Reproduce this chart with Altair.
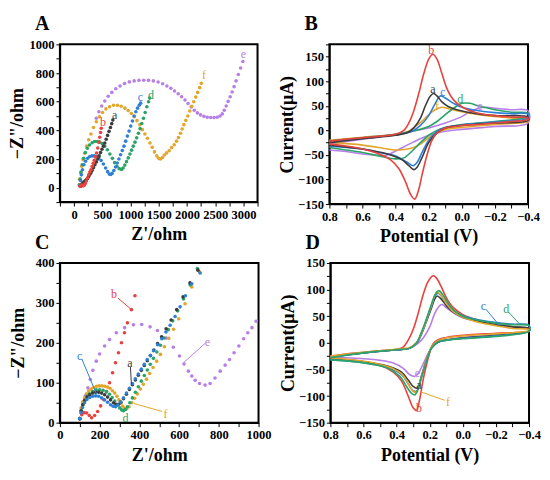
import altair as alt
import pandas as pd

FONT = "Liberation Serif"
COL = {"a": "#3c3c3c", "b": "#e8423f", "c": "#2f7fd6", "d": "#2aa468",
       "e": "#b77fe6", "f": "#e3a52a"}

# ---------------- Panel A (Nyquist, wide range) ----------------
A_a_x = [120, 140, 160, 180, 200, 220, 240, 260, 280, 300, 320, 345, 370, 395, 420, 445, 470, 495, 520, 545, 570, 595, 620, 645, 668, 688]
A_a_y = [10, 25, 35, 42, 48, 55, 65, 78, 92, 105, 120, 140, 160, 180, 200, 222, 245, 268, 290, 312, 338, 365, 393, 420, 447, 472]
A_b_x = [105, 120, 135, 150, 165, 180, 200, 220, 240, 260, 280, 300, 320, 340, 360, 380, 400, 420, 440, 455, 470, 482]
A_b_y = [10, 15, 18, 15, 14, 18, 30, 48, 68, 90, 110, 125, 148, 170, 192, 215, 242, 277, 318, 352, 385, 415]
A_c_x = [105, 115, 130, 150, 175, 205, 240, 280, 320, 360, 400, 440, 480, 520, 560, 595, 625, 650, 675, 705, 735, 765, 795, 825, 855, 885, 915, 945, 975, 1005, 1035, 1065, 1095, 1125, 1155, 1180]
A_c_y = [15, 50, 90, 125, 160, 185, 205, 218, 222, 222, 218, 208, 190, 165, 138, 112, 95, 92, 100, 120, 145, 172, 200, 230, 260, 290, 325, 360, 395, 430, 465, 500, 530, 555, 575, 590]
A_d_x = [100, 110, 125, 145, 170, 200, 235, 275, 320, 365, 410, 455, 500, 545, 590, 635, 680, 720, 760, 800, 840, 870, 900, 930, 960, 990, 1020, 1050, 1080, 1110, 1140, 1170, 1200, 1230, 1260, 1290, 1320, 1340]
A_d_y = [20, 60, 110, 160, 205, 245, 275, 298, 314, 322, 322, 318, 308, 290, 265, 235, 205, 175, 150, 133, 128, 138, 158, 182, 208, 235, 262, 290, 318, 348, 380, 412, 448, 485, 525, 565, 600, 625]
A_e_x = [395, 440, 490, 545, 605, 670, 740, 815, 895, 980, 1065, 1150, 1235, 1320, 1405, 1490, 1570, 1645, 1715, 1780, 1845, 1905, 1965, 2020, 2075, 2130, 2185, 2240, 2300, 2360, 2420, 2480, 2535, 2585, 2625, 2660, 2695, 2730, 2765, 2800, 2835, 2870, 2910, 2950, 2990]
A_e_y = [485, 530, 570, 605, 638, 665, 690, 710, 727, 738, 745, 749, 750, 749, 745, 737, 725, 710, 693, 675, 655, 635, 612, 588, 563, 540, 522, 508, 498, 492, 490, 489, 492, 500, 515, 540, 570, 602, 635, 668, 705, 745, 790, 835, 880]
A_f_x = [90, 100, 115, 135, 160, 190, 225, 260, 300, 345, 395, 450, 505, 565, 630, 700, 770, 835, 900, 960, 1015, 1065, 1115, 1165, 1210, 1255, 1300, 1345, 1385, 1425, 1465, 1500, 1530, 1565, 1600, 1640, 1685, 1730, 1775, 1815, 1850, 1885, 1915, 1945, 1980, 2015, 2050, 2085, 2120, 2155, 2190, 2225, 2255]
A_f_y = [20, 60, 105, 150, 195, 240, 290, 335, 375, 420, 460, 495, 525, 550, 565, 575, 575, 568, 555, 538, 518, 495, 468, 440, 405, 375, 345, 312, 282, 250, 222, 205, 200, 210, 228, 243, 258, 280, 300, 325, 350, 380, 410, 440, 470, 500, 535, 568, 600, 632, 665, 698, 728]
A_lab_t = ["a", "b", "c", "d", "e", "f"]
A_lab_x = [720, 515, 1175, 1365, 3000, 2300]
A_lab_y = [505, 460, 630, 650, 935, 785]

# ---------------- Panel C (Nyquist, zoomed) ----------------
C_a_x = [100, 107, 115, 125, 137, 150, 165, 180, 195, 210, 225, 240, 255, 270, 283, 295, 307, 320, 335, 350, 365, 380, 395, 410, 425, 440, 456, 473, 492, 512, 535, 560, 588, 620, 655, 695]
C_a_y = [10, 30, 45, 56, 64, 70, 74, 76, 76, 74, 70, 64, 57, 50, 46, 46, 51, 60, 71, 83, 95, 107, 119, 131, 143, 155, 168, 182, 198, 215, 235, 257, 283, 315, 350, 382]
C_b_x = [100, 110, 122, 135, 148, 160, 175, 190, 205, 220, 235, 250, 265, 280, 295, 310, 325, 340, 360, 378]
C_b_y = [10, 20, 25, 24, 18, 12, 18, 28, 42, 58, 78, 100, 125, 150, 175, 200, 225, 250, 283, 318]
C_c_x = [100, 106, 114, 124, 136, 150, 165, 180, 195, 210, 225, 240, 255, 268, 280, 292, 305, 320, 335, 350, 365, 380, 395, 410, 425, 440, 455, 471, 492, 513, 534, 555, 580, 605, 632, 664, 706]
C_c_y = [10, 25, 38, 50, 58, 63, 66, 67, 66, 62, 57, 51, 45, 41, 40, 44, 52, 62, 74, 86, 98, 110, 122, 134, 146, 158, 168, 180, 195, 210, 227, 244, 266, 290, 318, 348, 375]
C_d_x = [100, 108, 116, 125, 137, 150, 165, 183, 200, 217, 234, 250, 263, 276, 289, 301, 311, 320, 330, 340, 352, 365, 380, 395, 410, 425, 440, 455, 471, 488, 506, 525, 546, 568, 593, 622, 656, 692]
C_d_y = [10, 30, 45, 55, 66, 72, 78, 82, 82, 81, 77, 71, 63, 54, 45, 37, 32, 30, 33, 40, 50, 62, 76, 90, 104, 118, 132, 146, 161, 177, 194, 212, 233, 255, 280, 310, 345, 386]
C_e_x = [100, 107, 116, 128, 141, 153, 166, 183, 200, 225, 250, 284, 326, 370, 412, 454, 491, 535, 571, 602, 625, 647, 664, 681, 703, 731, 756, 781, 807, 832, 854, 877, 901, 925, 946, 967, 988]
C_e_y = [10, 29, 46, 67, 87, 108, 131, 154, 172, 192, 208, 225, 238, 245, 246, 240, 231, 212, 189, 167, 147, 129, 117, 106, 98, 94, 98, 112, 129, 144, 158, 175, 192, 210, 225, 238, 254]
C_f_x = [100, 107, 115, 124, 134, 145, 157, 170, 184, 198, 212, 226, 240, 252, 264, 276, 287, 297, 306, 316, 326, 336, 348, 362, 376, 390, 405, 420, 436, 452, 469, 487, 506, 526, 548, 572, 598, 630, 664, 703]
C_f_y = [10, 37, 52, 62, 72, 79, 84, 88, 91, 92, 92, 91, 89, 86, 80, 74, 66, 57, 48, 41, 36, 35, 40, 50, 61, 72, 84, 96, 109, 123, 138, 154, 171, 190, 211, 234, 260, 298, 340, 378]
C_lab_t = ["a", "b", "c", "d", "e", "f"]
C_lab_x = [352, 272, 100, 330, 742, 532]
C_lab_y = [150, 322, 168, 12, 203, 22]
C_arr_s = ["a", "b", "c", "e", "f"]
C_arr_x = [355, 292, 110, 730, 515]
C_arr_y = [140, 312, 160, 198, 28]
C_arr_x2 = [360, 356, 185, 622, 372]
C_arr_y2 = [96, 285, 71, 150, 48]

# ---------------- Panel B (CV) ----------------
B_a_Eu = [0.8, 0.6, 0.4, 0.33, 0.29, 0.25, 0.22, 0.19, 0.17, 0.15, 0.12, 0.08, 0.03, -0.05, -0.2, -0.4]
B_a_Iu = [-25, -17, -10, -5, 5, 25, 50, 70, 75, 70, 58, 48, 42, 36, 30, 27]
B_a_Ed = [-0.4, -0.2, 0.0, 0.1, 0.15, 0.2, 0.24, 0.27, 0.29, 0.32, 0.36, 0.45, 0.6, 0.8]
B_a_Id = [20, 15, 10, 5, -5, -25, -55, -75, -80, -72, -60, -48, -38, -30]
B_b_Eu = [0.8, 0.7, 0.6, 0.5, 0.4, 0.35, 0.32, 0.29, 0.26, 0.23, 0.2, 0.175, 0.15, 0.12, 0.09, 0.05, 0.0, -0.05, -0.1, -0.2, -0.3, -0.4]
B_b_Iu = [-22, -18, -15, -12, -8, 0, 15, 40, 75, 115, 145, 155, 145, 115, 85, 62, 48, 40, 35, 30, 27, 25]
B_b_Ed = [-0.4, -0.3, -0.2, -0.1, 0.0, 0.05, 0.1, 0.15, 0.18, 0.21, 0.24, 0.26, 0.285, 0.31, 0.34, 0.38, 0.43, 0.5, 0.6, 0.7, 0.8]
B_b_Id = [22, 18, 15, 12, 10, 8, 5, -5, -20, -50, -90, -120, -140, -130, -105, -78, -60, -48, -38, -32, -28]
B_c_Eu = [0.8, 0.6, 0.4, 0.3, 0.25, 0.2, 0.16, 0.13, 0.1, 0.05, 0.0, -0.1, -0.2, -0.3, -0.4]
B_c_Iu = [-24, -16, -9, -2, 10, 30, 55, 70, 66, 55, 47, 40, 36, 34, 33]
B_c_Ed = [-0.4, -0.2, 0.0, 0.1, 0.15, 0.2, 0.24, 0.27, 0.295, 0.33, 0.4, 0.5, 0.6, 0.8]
B_c_Id = [25, 17, 11, 6, -2, -20, -45, -65, -72, -65, -52, -45, -38, -32]
B_d_Eu = [0.8, 0.6, 0.4, 0.3, 0.2, 0.15, 0.1, 0.05, 0.0, -0.05, -0.1, -0.2, -0.3, -0.4]
B_d_Iu = [-22, -15, -8, -2, 8, 18, 32, 45, 55, 55, 50, 42, 37, 35]
B_d_Ed = [-0.4, -0.2, 0.0, 0.1, 0.15, 0.2, 0.25, 0.3, 0.35, 0.4, 0.5, 0.6, 0.7, 0.8]
B_d_Id = [28, 18, 12, 6, 0, -10, -25, -42, -56, -58, -52, -45, -40, -35]
B_e_Eu = [0.8, 0.6, 0.4, 0.3, 0.2, 0.1, 0.0, -0.05, -0.1, -0.15, -0.2, -0.3, -0.4]
B_e_Iu = [-28, -18, -8, -2, 5, 15, 28, 38, 45, 47, 45, 42, 40]
B_e_Ed = [-0.4, -0.2, 0.0, 0.1, 0.2, 0.3, 0.4, 0.45, 0.5, 0.6, 0.7, 0.8]
B_e_Id = [15, 8, 2, -2, -10, -25, -42, -50, -51, -48, -43, -40]
B_f_Eu = [0.8, 0.6, 0.4, 0.33, 0.28, 0.23, 0.19, 0.15, 0.12, 0.08, 0.03, -0.05, -0.15, -0.3, -0.4]
B_f_Iu = [-20, -14, -8, -3, 8, 22, 35, 44, 47, 44, 40, 35, 30, 25, 22]
B_f_Ed = [-0.4, -0.2, 0.0, 0.1, 0.15, 0.2, 0.25, 0.3, 0.35, 0.4, 0.45, 0.5, 0.6, 0.8]
B_f_Id = [18, 12, 6, 2, -5, -15, -28, -36, -39, -40, -38, -35, -30, -24]
B_lab_t = ["a", "b", "c", "d", "e", "f"]
B_lab_x = [0.175, 0.185, 0.115, 0.01, -0.11, 0.15]
B_lab_y = [84, 164, 78, 64, 50, 50]

# ---------------- Panel D (CV) ----------------
D_a_Eu = [0.8, 0.6, 0.4, 0.32, 0.28, 0.25, 0.22, 0.19, 0.17, 0.155, 0.13, 0.1, 0.06, 0.0, -0.1, -0.2, -0.3, -0.4]
D_a_Iu = [-26, -19, -13, -10, -1, 16, 40, 65, 82, 88, 82, 70, 58, 48, 40, 34, 30, 27]
D_a_Ed = [-0.4, -0.2, 0.0, 0.1, 0.15, 0.19, 0.22, 0.25, 0.275, 0.3, 0.33, 0.37, 0.45, 0.55, 0.7, 0.8]
D_a_Id = [22, 14, 9, 5, 1, -10, -33, -62, -85, -82, -70, -55, -44, -38, -33, -31]
D_b_Eu = [0.8, 0.7, 0.6, 0.5, 0.4, 0.36, 0.33, 0.3, 0.27, 0.24, 0.21, 0.18, 0.16, 0.13, 0.1, 0.06, 0.0, -0.1, -0.2, -0.3, -0.4]
D_b_Iu = [-25, -21, -18, -15, -12, -8, 5, 25, 55, 90, 115, 126, 122, 105, 85, 67, 53, 42, 35, 30, 25]
D_b_Ed = [-0.4, -0.2, 0.0, 0.1, 0.15, 0.18, 0.21, 0.24, 0.26, 0.28, 0.3, 0.33, 0.37, 0.42, 0.5, 0.6, 0.7, 0.8]
D_b_Id = [22, 18, 14, 10, 6, -2, -30, -70, -105, -127, -122, -100, -72, -55, -42, -35, -32, -30]
D_c_Eu = [0.8, 0.6, 0.4, 0.32, 0.28, 0.25, 0.22, 0.19, 0.17, 0.15, 0.13, 0.1, 0.06, 0.0, -0.1, -0.2, -0.3, -0.4]
D_c_Iu = [-27, -19, -13, -10, -1, 17, 42, 68, 87, 93, 88, 75, 61, 51, 43, 38, 35, 33]
D_c_Ed = [-0.4, -0.2, 0.0, 0.1, 0.15, 0.19, 0.22, 0.25, 0.28, 0.3, 0.33, 0.37, 0.45, 0.55, 0.7, 0.8]
D_c_Id = [22, 13, 8, 5, 1, -10, -35, -65, -91, -90, -77, -60, -47, -40, -34, -32]
D_d_Eu = [0.8, 0.6, 0.4, 0.32, 0.28, 0.25, 0.22, 0.19, 0.165, 0.145, 0.12, 0.09, 0.05, 0.0, -0.1, -0.2, -0.3, -0.4]
D_d_Iu = [-28, -19, -13, -10, 0, 20, 45, 72, 92, 98, 90, 75, 60, 50, 42, 37, 34, 32]
D_d_Ed = [-0.4, -0.2, 0.0, 0.1, 0.15, 0.19, 0.22, 0.25, 0.27, 0.29, 0.31, 0.34, 0.38, 0.45, 0.55, 0.7, 0.8]
D_d_Id = [22, 12, 8, 5, 2, -10, -35, -65, -87, -98, -95, -82, -63, -48, -40, -34, -32]
D_e_Eu = [0.8, 0.6, 0.4, 0.33, 0.3, 0.25, 0.2, 0.17, 0.14, 0.125, 0.1, 0.05, 0.0, -0.1, -0.2, -0.3, -0.4]
D_e_Iu = [-26, -19, -13, -11, -7, 5, 30, 55, 70, 72, 66, 55, 47, 40, 35, 30, 27]
D_e_Ed = [-0.4, -0.2, 0.0, 0.1, 0.15, 0.2, 0.24, 0.27, 0.29, 0.32, 0.36, 0.42, 0.5, 0.65, 0.8]
D_e_Id = [22, 15, 10, 6, 2, -15, -40, -58, -63, -60, -48, -38, -33, -29, -27]
D_f_Eu = [0.8, 0.6, 0.4, 0.32, 0.28, 0.25, 0.22, 0.19, 0.17, 0.155, 0.13, 0.1, 0.06, 0.0, -0.1, -0.2, -0.3, -0.4]
D_f_Iu = [-25, -18, -12, -9, 0, 18, 43, 70, 89, 95, 89, 74, 59, 48, 38, 32, 27, 25]
D_f_Ed = [-0.4, -0.2, 0.0, 0.1, 0.15, 0.19, 0.22, 0.25, 0.28, 0.3, 0.33, 0.37, 0.45, 0.55, 0.7, 0.8]
D_f_Id = [23, 17, 13, 9, 4, -8, -33, -64, -93, -91, -77, -58, -45, -37, -31, -28]
D_lab_t = ["a", "b", "c", "d", "e", "f"]
D_lab_x = [0.265, 0.265, -0.125, -0.262, 0.275, 0.09]
D_lab_y = [-79, -122, 69, 64, -56, -111]
D_arr_s = ["c", "d", "f"]
D_arr_x = [-0.14, -0.275, 0.11]
D_arr_y = [63, 58, -108]
D_arr_x2 = [-0.22, -0.35, 0.255]
D_arr_y2 = [33, 33, -92]

PANEL_LETTERS = ["A", "B", "C", "D"]


# ---------------- helpers ----------------
def axis(title, values, label_expr, title_pad):
    return alt.Axis(title=title, values=values, labelExpr=label_expr, grid=False,
                    ticks=True, tickSize=4, tickColor="black", tickWidth=1,
                    domainColor="black", domainWidth=1.5,
                    labelFont=FONT, labelFontWeight="bold", labelFontSize=12.5,
                    labelColor="black", labelPadding=2,
                    titleFont=FONT, titleFontWeight="bold", titleFontSize=18,
                    titleColor="black", titlePadding=title_pad,
                    labelFlush=False, labelOverlap=False, labelBound=False)


def letter_layer(t):
    return alt.Chart(pd.DataFrame({"t": [t]})).mark_text(
        font=FONT, fontWeight="bold", fontSize=20, color="black",
        align="left", baseline="top").encode(
        x=alt.value(-25), y=alt.value(-30), text="t:N")


def labels_df(ts, xs, ys):
    return pd.DataFrame({"x": xs, "y": ys, "t": ts, "c": [COL[t] for t in ts]})


def arr_df(ss, x, y, x2, y2):
    return pd.DataFrame({"x": x, "y": y, "x2": x2, "y2": y2, "c": [COL[s] for s in ss]})


def eis_panel(series, lab, arr, xdom, ydom, xvals, xexpr, yvals, yexpr, ltr, w, h, ypad):
    rows = []
    for name, xs, ys in series:
        for x, y in zip(xs, ys):
            rows.append({"x": x, "y": y, "s": name})
    df = pd.DataFrame(rows)
    xsc = alt.Scale(domain=xdom, nice=False, zero=False)
    ysc = alt.Scale(domain=ydom, nice=False, zero=False)
    xax = axis("Z'/ohm", xvals, xexpr, 5)
    yax = axis("\u2212Z\"/ohm", yvals, yexpr, ypad)
    pts = alt.Chart(df).mark_circle(size=13, opacity=1).encode(
        x=alt.X("x:Q", scale=xsc, axis=xax),
        y=alt.Y("y:Q", scale=ysc, axis=yax),
        color=alt.Color("s:N", scale=alt.Scale(domain=list(COL.keys()),
                                               range=list(COL.values())), legend=None))
    layers = [pts]
    if arr is not None:
        layers.append(alt.Chart(arr).mark_rule(strokeWidth=1).encode(
            x=alt.X("x:Q", scale=xsc, axis=xax), y=alt.Y("y:Q", scale=ysc, axis=yax),
            x2="x2:Q", y2="y2:Q", color=alt.Color("c:N", scale=None)))
    layers.append(alt.Chart(lab).mark_text(font=FONT, fontSize=12).encode(
        x=alt.X("x:Q", scale=xsc, axis=xax), y=alt.Y("y:Q", scale=ysc, axis=yax),
        text="t:N", color=alt.Color("c:N", scale=None)))
    layers.append(letter_layer(ltr))
    return alt.layer(*layers).properties(width=w, height=h)


def cv_panel(series, lab, arr, yvals, ydom, ltr, h):
    xsc = alt.Scale(domain=[-0.4, 0.8], reverse=True, nice=False, zero=False)
    ysc = alt.Scale(domain=ydom, nice=False, zero=False)
    xvals = [0.8, 0.7, 0.6, 0.5, 0.4, 0.3, 0.2, 0.1, 0.0, -0.1, -0.2, -0.3, -0.4]
    xexpr = "abs(round(datum.value*10)) % 2 == 0 ? format(datum.value, '.1f') : ''"
    yexpr = "datum.value % 50 == 0 ? format(datum.value, 'd') : ''"
    xax = axis("Potential (V)", xvals, xexpr, 5)
    yax = axis("Current(\u03bcA)", yvals, yexpr, 1)
    layers = []
    for name, Eu, Iu, Ed, Id in series:
        E = Eu + Ed
        I = Iu + Id
        df = pd.DataFrame({"E": E, "I": I, "i": list(range(len(E)))})
        layers.append(alt.Chart(df).mark_line(strokeWidth=1.6, color=COL[name],
                                              interpolate="catmull-rom").encode(
            x=alt.X("E:Q", scale=xsc, axis=xax), y=alt.Y("I:Q", scale=ysc, axis=yax),
            order="i:Q"))
    if arr is not None:
        layers.append(alt.Chart(arr).mark_rule(strokeWidth=1).encode(
            x=alt.X("x:Q", scale=xsc, axis=xax), y=alt.Y("y:Q", scale=ysc, axis=yax),
            x2="x2:Q", y2="y2:Q", color=alt.Color("c:N", scale=None)))
    layers.append(alt.Chart(lab).mark_text(font=FONT, fontSize=12).encode(
        x=alt.X("x:Q", scale=xsc, axis=xax), y=alt.Y("y:Q", scale=ysc, axis=yax),
        text="t:N", color=alt.Color("c:N", scale=None)))
    layers.append(letter_layer(ltr))
    return alt.layer(*layers).properties(width=199, height=h)


A = eis_panel(
    [("e", A_e_x, A_e_y), ("f", A_f_x, A_f_y), ("d", A_d_x, A_d_y),
     ("c", A_c_x, A_c_y), ("a", A_a_x, A_a_y), ("b", A_b_x, A_b_y)],
    labels_df(A_lab_t, A_lab_x, A_lab_y), None,
    [-250, 3250], [-100, 1000],
    list(range(-250, 3251, 250)), "datum.value % 500 == 0 ? format(datum.value, 'd') : ''",
    list(range(-100, 1001, 100)), "datum.value % 200 == 0 ? format(datum.value, 'd') : ''",
    PANEL_LETTERS[0], 198, 158, 2)

C = eis_panel(
    [("e", C_e_x, C_e_y), ("b", C_b_x, C_b_y), ("f", C_f_x, C_f_y),
     ("d", C_d_x, C_d_y), ("a", C_a_x, C_a_y), ("c", C_c_x, C_c_y)],
    labels_df(C_lab_t, C_lab_x, C_lab_y),
    arr_df(C_arr_s, C_arr_x, C_arr_y, C_arr_x2, C_arr_y2),
    [0, 1000], [0, 400],
    list(range(0, 1001, 100)), "datum.value % 200 == 0 ? format(datum.value, 'd') : ''",
    list(range(0, 401, 50)), "datum.value % 100 == 0 ? format(datum.value, 'd') : ''",
    PANEL_LETTERS[2], 199, 160, 8)

B = cv_panel(
    [("e", B_e_Eu, B_e_Iu, B_e_Ed, B_e_Id), ("f", B_f_Eu, B_f_Iu, B_f_Ed, B_f_Id),
     ("d", B_d_Eu, B_d_Iu, B_d_Ed, B_d_Id), ("c", B_c_Eu, B_c_Iu, B_c_Ed, B_c_Id),
     ("a", B_a_Eu, B_a_Iu, B_a_Ed, B_a_Id), ("b", B_b_Eu, B_b_Iu, B_b_Ed, B_b_Id)],
    labels_df(B_lab_t, B_lab_x, B_lab_y), None,
    list(range(-150, 176, 25)), [-150, 175], PANEL_LETTERS[1], 160)

D = cv_panel(
    [("b", D_b_Eu, D_b_Iu, D_b_Ed, D_b_Id), ("e", D_e_Eu, D_e_Iu, D_e_Ed, D_e_Id),
     ("a", D_a_Eu, D_a_Iu, D_a_Ed, D_a_Id), ("c", D_c_Eu, D_c_Iu, D_c_Ed, D_c_Id),
     ("f", D_f_Eu, D_f_Iu, D_f_Ed, D_f_Id), ("d", D_d_Eu, D_d_Iu, D_d_Ed, D_d_Id)],
    labels_df(D_lab_t, D_lab_x, D_lab_y),
    arr_df(D_arr_s, D_arr_x, D_arr_y, D_arr_x2, D_arr_y2),
    list(range(-150, 151, 25)), [-150, 150], PANEL_LETTERS[3], 160)

chart = alt.vconcat(
    alt.hconcat(A, B, spacing=18),
    alt.hconcat(C, D, spacing=6),
    spacing=-15,
    background="white",
    padding={"left": 0, "top": 5, "right": 0, "bottom": 0},
).configure_view(stroke="black", strokeWidth=2).configure_axis(labelOverlap=False)

chart.save("out.html", embed_options={"renderer": "svg", "actions": False})
